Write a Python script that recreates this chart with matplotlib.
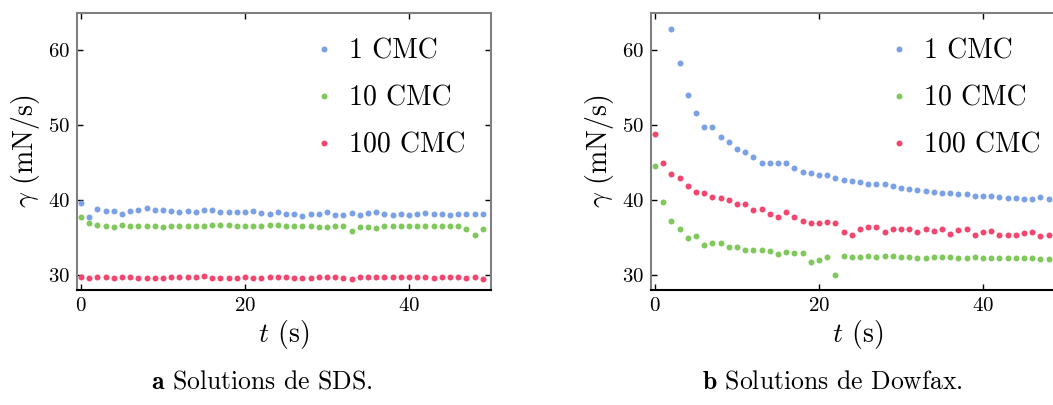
import numpy as np
import matplotlib
matplotlib.use("Agg")
import matplotlib.pyplot as plt

plt.rcParams['font.family'] = 'serif'
plt.rcParams['font.serif'] = ['cmr10']
plt.rcParams['mathtext.fontset'] = 'cm'
plt.rcParams['axes.formatter.use_mathtext'] = True

# temps (s)
t_sds = list(range(50))
t_dowfax = list(range(49))

# Solutions de SDS
sds_1 = [39.6, 37.7, 38.8, 38.6, 38.6, 38.2, 38.5, 38.7, 38.9, 38.7,
         38.7, 38.6, 38.4, 38.6, 38.4, 38.7, 38.7, 38.4, 38.4, 38.4,
         38.4, 38.5, 38.3, 38.2, 38.4, 38.2, 38.2, 37.9, 38.2, 38.2,
         38.4, 38.0, 38.0, 38.3, 38.0, 38.3, 38.4, 38.1, 38.0, 38.1,
         38.0, 38.1, 38.3, 38.1, 38.1, 38.0, 38.1, 38.1, 38.1, 38.1]
sds_10 = [37.7, 37.0, 36.7, 36.6, 36.4, 36.7, 36.5, 36.6, 36.6, 36.6,
          36.4, 36.5, 36.5, 36.5, 36.5, 36.6, 36.7, 36.7, 36.7, 36.6,
          36.5, 36.6, 36.5, 36.7, 36.7, 36.6, 36.6, 36.6, 36.6, 36.4,
          36.4, 36.6, 36.6, 35.9, 36.4, 36.4, 36.3, 36.6, 36.5, 36.5,
          36.5, 36.5, 36.6, 36.6, 36.6, 36.6, 36.6, 36.1, 35.4, 36.2]
sds_100 = [29.8, 29.6, 29.7, 29.7, 29.6, 29.7, 29.7, 29.6, 29.6, 29.6,
           29.6, 29.7, 29.8, 29.8, 29.8, 29.9, 29.6, 29.6, 29.6, 29.6,
           29.7, 29.6, 29.6, 29.7, 29.7, 29.7, 29.6, 29.6, 29.6, 29.7,
           29.7, 29.8, 29.6, 29.5, 29.7, 29.8, 29.7, 29.7, 29.7, 29.8,
           29.7, 29.8, 29.7, 29.6, 29.7, 29.7, 29.7, 29.6, 29.7, 29.5]

# Solutions de Dowfax (1 CMC commence a t = 2 s)
dow_1 = [np.nan, np.nan, 62.8, 58.3, 54.0, 51.7, 49.8, 49.8, 48.4, 47.8,
         46.9, 46.5, 45.8, 44.9, 44.9, 45.0, 44.9, 44.3, 43.7, 43.6,
         43.3, 43.4, 42.9, 42.7, 42.6, 42.4, 42.2, 42.2, 42.1, 41.9,
         41.6, 41.5, 41.3, 41.2, 41.1, 41.0, 40.9, 40.8, 40.8, 40.6,
         40.5, 40.5, 40.4, 40.3, 40.3, 40.2, 40.1, 40.4, 40.1]
dow_10 = [44.6, 39.8, 37.2, 36.2, 34.9, 35.2, 34.0, 34.3, 34.3, 33.7,
          33.8, 33.4, 33.4, 33.3, 33.2, 32.8, 33.1, 33.0, 32.9, 31.7,
          32.0, 32.4, 30.0, 32.6, 32.4, 32.4, 32.5, 32.4, 32.5, 32.6,
          32.4, 32.4, 32.3, 32.3, 32.4, 32.4, 32.4, 32.3, 32.3, 32.4,
          32.3, 32.3, 32.3, 32.3, 32.3, 32.3, 32.3, 32.2, 32.2]
dow_100 = [48.9, 44.9, 43.5, 43.0, 41.9, 41.1, 40.9, 40.4, 40.3, 40.0,
           39.5, 39.5, 38.7, 38.8, 38.2, 37.8, 38.4, 37.7, 37.2, 36.9,
           36.9, 37.1, 36.9, 35.8, 35.3, 36.1, 36.4, 36.4, 35.8, 36.1,
           36.2, 36.2, 35.7, 36.2, 35.9, 36.1, 35.5, 36.0, 36.1, 35.4,
           35.7, 35.9, 35.3, 35.3, 35.3, 35.6, 35.8, 35.2, 35.3]

labels = ['1 CMC', '10 CMC', '100 CMC']
colors = ['#7aa0e6', '#80c85c', '#f2466e']
captions = [r'$\mathbf{a}$ Solutions de SDS.', r'$\mathbf{b}$ Solutions de Dowfax.']

fig = plt.figure(figsize=(10.53, 4.05), dpi=100)
W, H = 1053, 405
ax1 = fig.add_axes([77 / W, 1 - 290 / H, 414 / W, 277 / H])
ax2 = fig.add_axes([651 / W, 1 - 290 / H, 414 / W, 277 / H])

panels = [(ax1, t_sds, [sds_1, sds_10, sds_100]),
          (ax2, t_dowfax, [dow_1, dow_10, dow_100])]

for ax, t, series in panels:
    for y, lab, c in zip(series, labels, colors):
        ax.plot(t, y, 'o', color=c, markersize=4.3, markeredgewidth=0, label=lab)
    ax.set_xlim(-0.5, 50)
    ax.set_ylim(28, 65)
    ax.set_xticks([0, 20, 40])
    ax.set_yticks([30, 40, 50, 60])
    ax.tick_params(direction='in', top=True, right=True, length=4, width=1,
                   labelsize=15, pad=5)
    for side in ['left', 'top', 'right']:
        ax.spines[side].set_color('#808080')
        ax.spines[side].set_linewidth(1.5)
    ax.spines['bottom'].set_color('black')
    ax.spines['bottom'].set_linewidth(1.5)
    ax.set_xlabel(r'$t$ (s)', fontsize=20, labelpad=2)
    ax.set_ylabel(r'$\gamma$ (mN/s)', fontsize=20, labelpad=4)
    ax.legend(loc='upper right', frameon=False, fontsize=20, handlelength=1.0,
              handletextpad=0.4, numpoints=1, labelspacing=0.75, borderaxespad=0.5)

fig.text(262 / W, 1 - 382 / H, captions[0], fontsize=18.5, ha='center', va='center')
fig.text(832 / W, 1 - 382 / H, captions[1], fontsize=18.5, ha='center', va='center')

fig.savefig('out.png', dpi=100)
